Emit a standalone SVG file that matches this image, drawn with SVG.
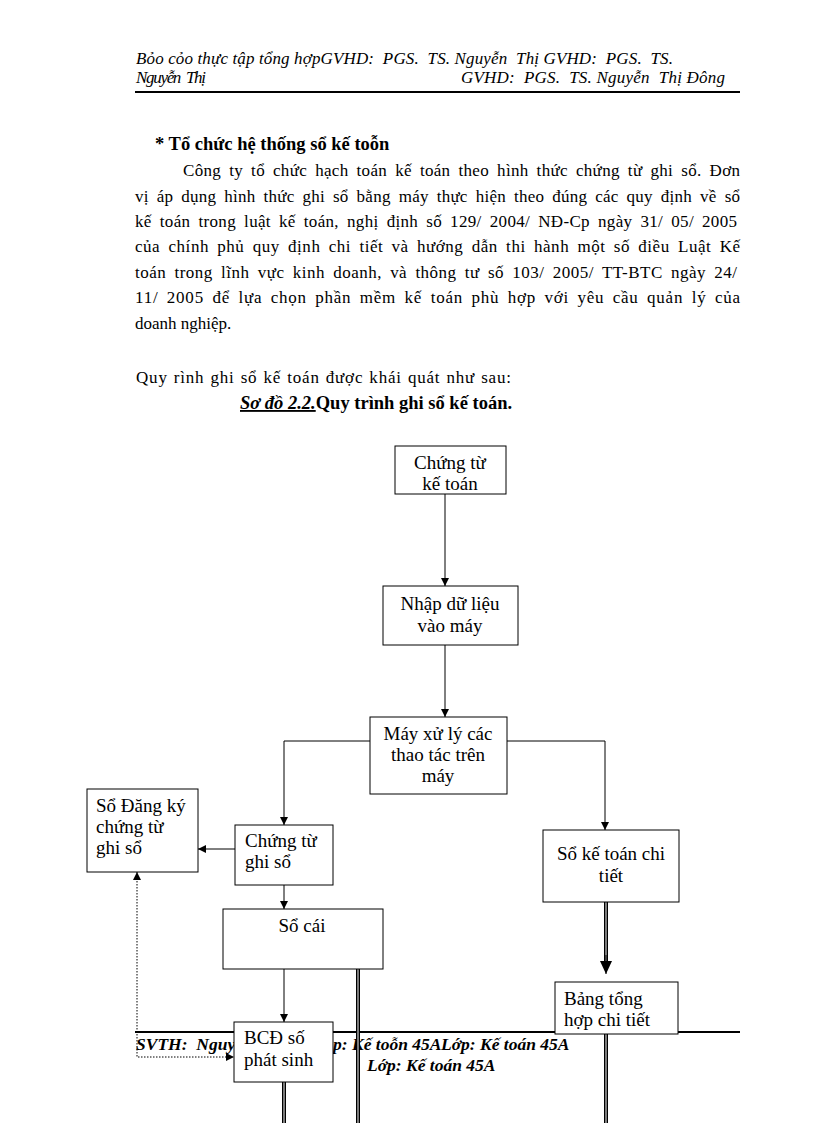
<svg xmlns="http://www.w3.org/2000/svg" width="816" height="1123" viewBox="0 0 816 1123">
<style>
text{font-family:"Liberation Serif","Times New Roman",serif;fill:#000}
.hd{font-size:17px;font-style:italic}
.p{font-size:17px}
.j{word-spacing:3.5px}
.b{font-size:18.5px;font-weight:bold}
.n{font-size:19px}
.c{text-anchor:middle}
.ft{font-size:17.5px;font-style:italic;font-weight:bold}
.box{fill:#fff;stroke:#000;stroke-width:1}
.ln{fill:none;stroke:#000;stroke-width:1}
.dot{fill:none;stroke:#000;stroke-width:1;stroke-dasharray:1.5 1.5}
.dbo{fill:none;stroke:#000;stroke-width:4}
.dbi{fill:none;stroke:#9a9a9a;stroke-width:1.6}
</style>
<defs>
<marker id="ah" markerWidth="8" markerHeight="8" refX="8" refY="4" orient="auto-start-reverse" markerUnits="userSpaceOnUse">
<path d="M0,0 L8,4 L0,8 Z" fill="#000"/>
</marker>
<marker id="ahb" markerWidth="13" markerHeight="12" refX="13" refY="6" orient="auto" markerUnits="userSpaceOnUse">
<path d="M0,0 L13,6 L0,12 Z" fill="#000"/>
</marker>
</defs>
<rect width="816" height="1123" fill="#fff"/>

<g id="header">
<text class="hd" x="136" y="64" textLength="537" lengthAdjust="spacing" xml:space="preserve">Bỏo cỏo thực tập tổng hợpGVHD:  PGS.  TS. Nguyễn  Thị GVHD:  PGS.  TS.</text>
<text class="hd" x="136" y="83" textLength="70" lengthAdjust="spacing" xml:space="preserve">Nguyễn  Thị</text>
<text class="hd" x="461" y="83" textLength="264" lengthAdjust="spacing" xml:space="preserve">GVHD:  PGS.  TS. Nguyễn  Thị Đông</text>
<line x1="135" y1="92" x2="740" y2="92" stroke="#000" stroke-width="2"/>
</g>

<g id="body-text">
<text class="b" x="155" y="150">* Tổ chức hệ thống sổ kế toỗn</text>
<text class="p j" x="183" y="176" textLength="557" lengthAdjust="spacing">Công ty tổ chức hạch toán kế toán theo hình thức chứng từ ghi sổ. Đơn</text>
<text class="p j" x="135" y="201.5" textLength="605" lengthAdjust="spacing">vị áp dụng hình thức ghi sổ bằng máy thực hiện theo đúng các quy định về sổ</text>
<text class="p j" x="135" y="227" textLength="602" lengthAdjust="spacing">kế toán trong luật  kế toán, nghị  định số 129/ 2004/ NĐ-Cp ngày 31/ 05/ 2005</text>
<text class="p j" x="135" y="252" textLength="605" lengthAdjust="spacing">của chính phủ quy định chi tiết và hướng dẫn thi hành một số điều Luật Kế</text>
<text class="p j" x="135" y="277.5" textLength="602" lengthAdjust="spacing">toán trong lĩnh vực kinh  doanh, và thông tư số 103/ 2005/ TT-BTC ngày 24/</text>
<text class="p j" x="135" y="303" textLength="605" lengthAdjust="spacing">11/ 2005  để lựa  chọn phần mềm kế toán phù hợp với yêu cầu quản lý của</text>
<text class="p" x="135" y="328.5">doanh nghiệp.</text>
<text class="p" x="136" y="383" word-spacing="1" textLength="375" lengthAdjust="spacing">Quy rình ghi sổ kế toán được khái quát như sau:</text>
<text class="b" x="240" y="409"><tspan font-style="italic" text-decoration="underline">Sơ đồ 2.2.</tspan>Quy trình ghi sổ kế toán.</text>
</g>

<g id="footer">
<line x1="135" y1="1032" x2="740" y2="1032" stroke="#000" stroke-width="2"/>
<text class="ft" x="136" y="1050" xml:space="preserve">SVTH:  Nguyễ</text>
<text class="ft" x="333" y="1050">p: Kế toỗn 45A</text>
<text class="ft" x="441" y="1050">Lớp: Kế toán 45A</text>
<text class="ft" x="367" y="1071">Lớp: Kế toán 45A</text>
</g>

<g id="connectors">
<line class="ln" x1="445" y1="494" x2="445" y2="586" marker-end="url(#ah)"/>
<line class="ln" x1="445" y1="645" x2="445" y2="717" marker-end="url(#ah)"/>
<polyline class="ln" points="370,741 284,741 284,825" marker-end="url(#ah)"/>
<polyline class="ln" points="507,741 605,741 605,830" marker-end="url(#ah)"/>
<line class="ln" x1="235" y1="849" x2="198" y2="849" marker-end="url(#ah)"/>
<line class="ln" x1="284" y1="885" x2="284" y2="909" marker-end="url(#ah)"/>
<line class="ln" x1="284" y1="969" x2="284" y2="1022" marker-end="url(#ah)"/>
<polyline class="dot" points="137,872 137,1057 234,1057" marker-start="url(#ah)" marker-end="url(#ah)"/>
<line class="dbo" x1="606" y1="902" x2="606" y2="963"/>
<line class="dbi" x1="606" y1="902" x2="606" y2="963"/>
<line class="ln" x1="606" y1="955" x2="606" y2="974" marker-end="url(#ahb)"/>
<line class="dbo" x1="358" y1="969" x2="358" y2="1123"/>
<line class="dbi" x1="358" y1="969" x2="358" y2="1123"/>
<line class="dbo" x1="284" y1="1082" x2="284" y2="1123"/>
<line class="dbi" x1="284" y1="1082" x2="284" y2="1123"/>
<line class="dbo" x1="606" y1="1034" x2="606" y2="1123"/>
<line class="dbi" x1="606" y1="1034" x2="606" y2="1123"/>
</g>

<g id="n-chungtu-ketoan">
<rect class="box" x="395" y="446" width="111" height="48"/>
<text class="n c" x="450" y="469">Chứng từ</text>
<text class="n c" x="450" y="490">kế toán</text>
</g>
<g id="n-nhap">
<rect class="box" x="383" y="586" width="135" height="59"/>
<text class="n c" x="450" y="610">Nhập dữ liệu</text>
<text class="n c" x="450" y="632">vào máy</text>
</g>
<g id="n-mayxuly">
<rect class="box" x="370" y="717" width="137" height="77"/>
<text class="n c" x="438" y="740">Máy xử lý các</text>
<text class="n c" x="438" y="761">thao tác trên</text>
<text class="n c" x="438" y="782">máy</text>
</g>
<g id="n-sodangky">
<rect class="box" x="87" y="789" width="111" height="83"/>
<text class="n" x="96" y="812">Sổ Đăng ký</text>
<text class="n" x="96" y="833">chứng từ</text>
<text class="n" x="96" y="854">ghi sổ</text>
</g>
<g id="n-chungtu-ghiso">
<rect class="box" x="235" y="825" width="98" height="60"/>
<text class="n" x="245" y="847">Chứng từ</text>
<text class="n" x="245" y="868">ghi sổ</text>
</g>
<g id="n-socai">
<rect class="box" x="223" y="909" width="160" height="60"/>
<text class="n c" x="302" y="932">Sổ cái</text>
</g>
<g id="n-soketoanchitiet">
<rect class="box" x="543" y="830" width="136" height="72"/>
<text class="n c" x="611" y="860">Sổ kế toán chi</text>
<text class="n c" x="611" y="882">tiết</text>
</g>
<g id="n-bangtonghop">
<rect class="box" x="555" y="982" width="123" height="52"/>
<text class="n" x="564" y="1005">Bảng tổng</text>
<text class="n" x="564" y="1026">hợp chi tiết</text>
</g>
<g id="n-bcd">
<rect class="box" x="234" y="1022" width="99" height="60"/>
<text class="n" x="244" y="1044">BCĐ số</text>
<text class="n" x="244" y="1066">phát sinh</text>
</g>
</svg>
